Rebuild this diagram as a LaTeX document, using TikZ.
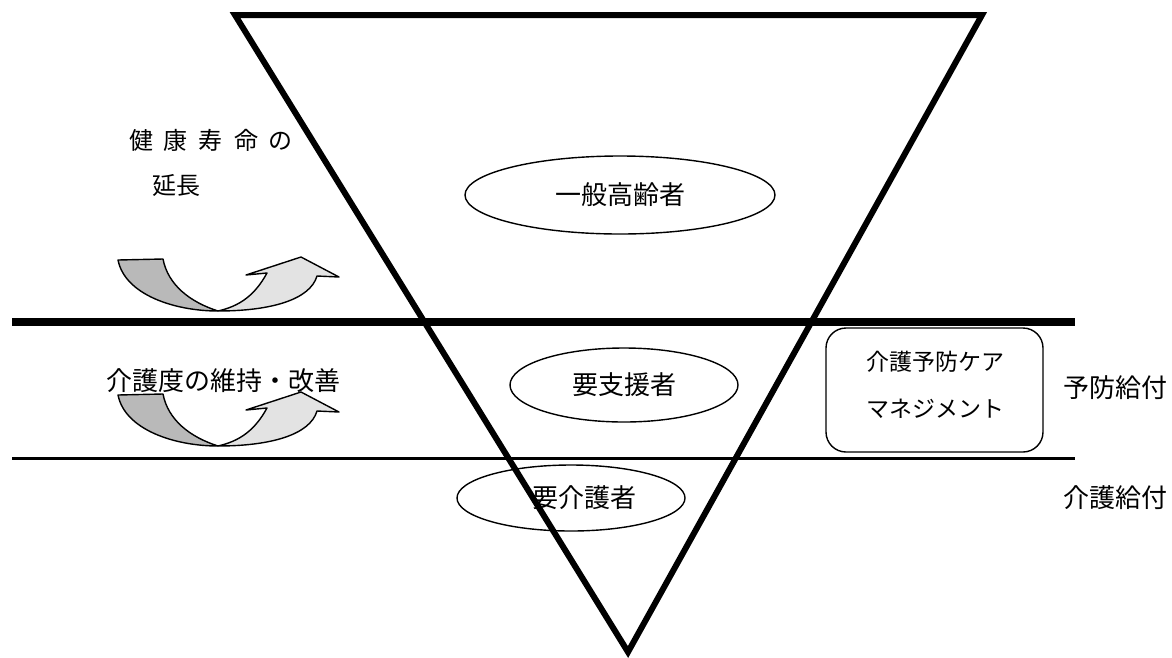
\documentclass[tikz,border=0pt]{standalone}
\usepackage{fontspec}
\setmainfont{Noto Sans CJK JP}
\usetikzlibrary{shapes.geometric}
\tikzset{
  oval/.style={ellipse, draw, line width=1.4pt, inner sep=0pt, font=\fontsize{26pt}{30pt}\selectfont},
  lbl/.style={inner sep=0pt, font=\fontsize{26pt}{30pt}\selectfont},
  boxlbl/.style={inner sep=0pt, font=\fontsize{23pt}{27pt}\selectfont},
  darkpart/.style={fill=gray!55, draw=black, line width=1.4pt, line join=round},
  lightpart/.style={fill=gray!22, draw=black, line width=1.4pt, line join=round}
}
\begin{document}
\begin{tikzpicture}[x=1pt,y=-1pt]
\useasboundingbox[fill=white] (0,0) rectangle (1172,657);
% horizontal bands
\coordinate (L1a) at (12,322); \coordinate (L1b) at (1075,322);
\coordinate (L2a) at (12,458); \coordinate (L2b) at (1075,458);
\draw[line width=7.5pt] (L1a) -- (L1b);
\draw[line width=3pt] (L2a) -- (L2b);
% ellipses
\node[oval, minimum width=310pt, minimum height=78pt] (e1) at (620,195) {一般高齢者};
\node[oval, minimum width=228pt, minimum height=74pt] (e2) at (624,385) {要支援者};
\node[oval, minimum width=228pt, minimum height=66pt] (e3) at (571,498) {};
\node[lbl] (t3) at (584,498) {要介護者};
% triangle
\coordinate (TL) at (235,15); \coordinate (TR) at (982,15); \coordinate (TB) at (628,652);
\draw[line width=6pt, line join=miter] (TL) -- (TR) -- (TB) -- cycle;
% box
\node[draw, line width=1.4pt, rounded corners=20pt, minimum width=217pt, minimum height=124pt] (box) at (934.5,390) {};
\node[boxlbl] (b1) at (935,362) {介護予防ケア};
\node[boxlbl] (b2) at (935,409) {マネジメント};
% right labels
\node[lbl] (r1) at (1115,388) {予防給付};
\node[lbl] (r2) at (1115,498) {介護給付};
% left labels
\node[lbl, font=\fontsize{24pt}{28pt}\selectfont] (k1) at (211,140) {健\hspace{11pt}康\hspace{11pt}寿\hspace{11pt}命\hspace{11pt}の};
\node[lbl, font=\fontsize{24pt}{28pt}\selectfont] (k2) at (176,185) {延長};
% arrows
\foreach \dy/\nm in {0/a1, 135/a2} {
  \begin{scope}[yshift=-\dy pt]
    \draw[darkpart] (118,260) -- (163,259) .. controls (168,285) and (190,302) .. (218,311)
       .. controls (175,311) and (125,295) .. cycle;
    \draw[lightpart] (218,311) .. controls (270,311) and (310,300) .. (317,276)
       -- (339,277) -- (301,257) -- (246,275) -- (267,273)
       .. controls (255,295) and (240,306) .. cycle;
  \end{scope}
}
\node[lbl] (k3) at (223,381) {介護度の維持・改善};
\end{tikzpicture}
\end{document}
